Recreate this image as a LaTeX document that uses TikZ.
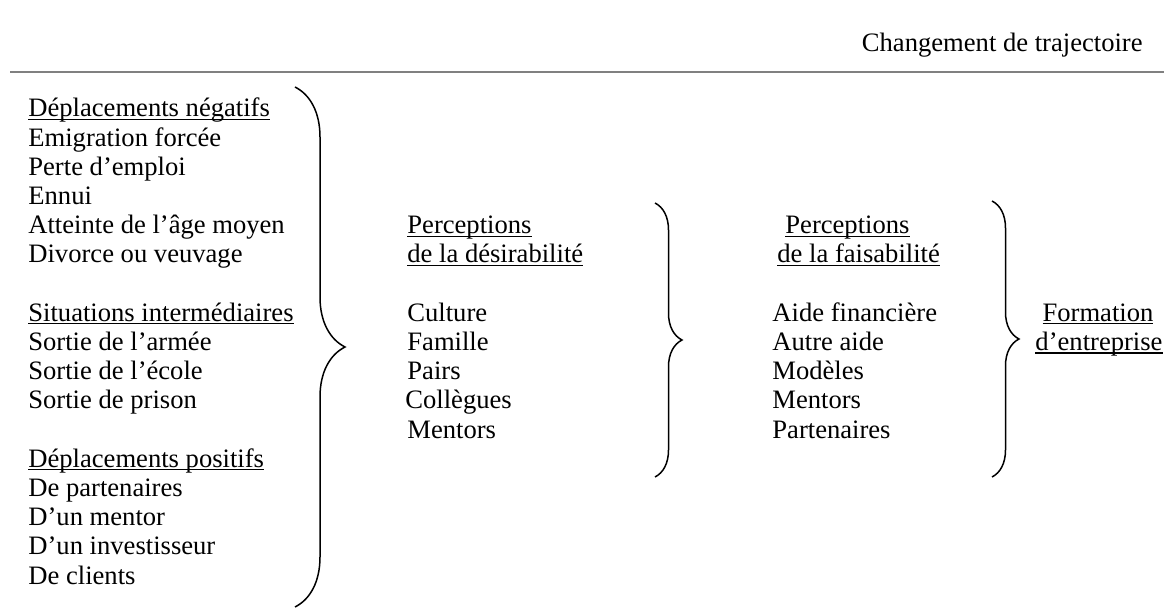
\documentclass[tikz,border=0pt]{standalone}
\usepackage{fontspec}
\setmainfont{Liberation Serif}
\usetikzlibrary{decorations.pathreplacing}

% underline through the descenders, as in the original
\newcommand{\ulword}[1]{\setbox0\hbox{#1}\rlap{\rule[-1.5pt]{\wd0}{0.55pt}}\box0}

\begin{document}
\begin{tikzpicture}[
  x=0.5pt, y=-0.5pt,
  txt/.style={anchor=base west, inner sep=0pt, font=\fontsize{13.3}{14.6}\selectfont},
  ctxt/.style={txt, anchor=base},
  rule/.style={draw=black!50, line width=1pt},
  brc/.style={draw, line width=0.75pt, decorate}
]
\useasboundingbox (0,0) rectangle (1164,609);

% --- Title and rule ---
\node[txt, anchor=base east] (titre) at (1143,52) {Changement de trajectoire};
\coordinate (r1) at (10,72);
\coordinate (r2) at (1164,72);
\draw[rule] (r1)--(r2);

% --- Left column: displacements ---
\node[txt] (dneg)    at (28,117)   {\ulword{Déplacements négatifs}};
\node[txt] (emig)    at (28,146.2) {Emigration forcée};
\node[txt] (perte)   at (28,175.4) {Perte d’emploi};
\node[txt] (ennui)   at (28,204.6) {Ennui};
\node[txt] (age)     at (28,233.8) {Atteinte de l’âge moyen};
\node[txt] (divorce) at (28,263)   {Divorce ou veuvage};

\node[txt] (sit)     at (28,321.4) {\ulword{Situations intermédiaires}};
\node[txt] (armee)   at (28,350.6) {Sortie de l’armée};
\node[txt] (ecole)   at (28,379.8) {Sortie de l’école};
\node[txt] (prison)  at (28,409)   {Sortie de prison};

\node[txt] (dpos)    at (28,467.4) {\ulword{Déplacements positifs}};
\node[txt] (part)    at (28,496.6) {De partenaires};
\node[txt] (mentor)  at (28,525.8) {D’un mentor};
\node[txt] (invest)  at (28,555)   {D’un investisseur};
\node[txt] (clients) at (28,584.2) {De clients};

\coordinate (b1t) at (295,87);
\coordinate (b1b) at (295,607);
\draw[brc, decoration={brace, amplitude=25pt}] (b1t)--(b1b);

% --- Middle column: desirability ---
\node[txt] (desA)    at (407,233.8) {\ulword{Perceptions}};
\node[txt] (desB)    at (407,263)   {\ulword{de la désirabilité}};
\node[txt] (culture) at (407,321.4) {Culture};
\node[txt] (famille) at (407,350.6) {Famille};
\node[txt] (pairs)   at (407,379.8) {Pairs};
\node[txt] (coll)    at (405,409)   {Collègues};
\node[txt] (mentD)   at (407,438.2) {Mentors};

\coordinate (b2t) at (655,203);
\coordinate (b2b) at (655,477);
\draw[brc, decoration={brace, amplitude=13.5pt}] (b2t)--(b2b);

% --- Right column: feasibility ---
\node[txt] (faiA)    at (785,233.8) {\ulword{Perceptions}};
\node[txt] (faiB)    at (777,263)   {\ulword{de la faisabilité}};
\node[txt] (aide)    at (772,321.4) {Aide financière};
\node[txt] (autre)   at (772,350.6) {Autre aide};
\node[txt] (modeles) at (772,379.8) {Modèles};
\node[txt] (mentF)   at (772,409)   {Mentors};
\node[txt] (partF)   at (772,438.2) {Partenaires};

\coordinate (b3t) at (992,201);
\coordinate (b3b) at (992,477);
\draw[brc, decoration={brace, amplitude=13.5pt}] (b3t)--(b3b);

% --- Outcome ---
\node[ctxt] (formA) at (1098,321.4) {\ulword{Formation}};
\node[ctxt] (formB) at (1099,350.6) {\ulword{d’entreprise}};

\end{tikzpicture}
\end{document}
